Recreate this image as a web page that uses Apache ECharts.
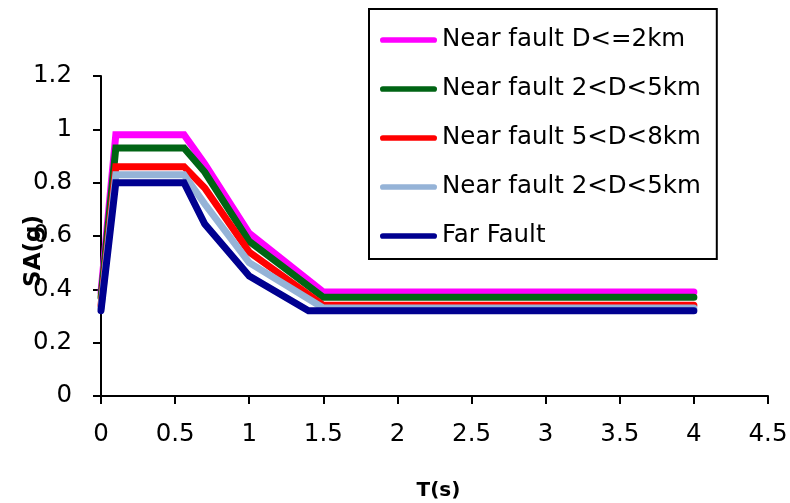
<!DOCTYPE html>
<html>
<head>
<meta charset="utf-8">
<script src="https://cdn.jsdelivr.net/npm/echarts@6/dist/echarts.min.js"></script>
<style>
  html, body { margin: 0; padding: 0; background: #ffffff; }
  #chart { width: 790px; height: 503px; }
</style>
</head>
<body>
<div id="chart"></div>
<script>
// Design response spectra: spectral acceleration SA (g) against period T (s)

// Periods (s) of the near-fault spectra and of the far-fault spectrum
const periodNear = [0, 0.1, 0.2, 0.3, 0.4, 0.5, 0.56, 0.7, 1.0, 1.5, 2, 2.5, 3, 3.5, 4];
const periodFar  = [0, 0.1, 0.2, 0.3, 0.4, 0.5, 0.56, 0.7, 1.0, 1.4, 1.5, 2, 2.5, 3, 3.5, 4];

// Spectral accelerations (g)
const saNearD2     = [0.39, 0.98, 0.98, 0.98, 0.98, 0.98, 0.98, 0.87, 0.61, 0.39, 0.39, 0.39, 0.39, 0.39, 0.39];
const saNearD2to5  = [0.37, 0.93, 0.93, 0.93, 0.93, 0.93, 0.93, 0.84, 0.58, 0.37, 0.37, 0.37, 0.37, 0.37, 0.37];
const saNearD5to8  = [0.34, 0.86, 0.86, 0.86, 0.86, 0.86, 0.86, 0.78, 0.54, 0.34, 0.34, 0.34, 0.34, 0.34, 0.34];
const saNearD2to5b = [0.33, 0.83, 0.83, 0.83, 0.83, 0.83, 0.83, 0.72, 0.50, 0.33, 0.33, 0.33, 0.33, 0.33, 0.33];
const saFar        = [0.32, 0.80, 0.80, 0.80, 0.80, 0.80, 0.80, 0.645, 0.45, 0.32, 0.32, 0.32, 0.32, 0.32, 0.32, 0.32];

// Legend texts, in drawing order (the trailing space keeps the repeated label a distinct series)
const seriesNames = [
  'Near fault D<=2km',
  'Near fault 2<D<5km',
  'Near fault 5<D<8km',
  'Near fault 2<D<5km ',
  'Far Fault'
];
const seriesColors = ['#ff00ff', '#006414', '#ff0000', '#95b3d7', '#000090'];

// Axis ticks
const xTicks = { min: 0, max: 4.5, step: 0.5 };
const yTicks = { min: 0, max: 1.2, step: 0.2 };

const FONT = 'DejaVu Sans';

function pairs(xs, ys) {
  return xs.map((x, i) => [x, ys[i]]);
}

const curves = [
  pairs(periodNear, saNearD2),
  pairs(periodNear, saNearD2to5),
  pairs(periodNear, saNearD5to8),
  pairs(periodNear, saNearD2to5b),
  pairs(periodFar, saFar)
];

const chart = echarts.init(document.getElementById('chart'), null, { renderer: 'canvas' });

chart.setOption({
  backgroundColor: '#ffffff',
  animation: false,
  grid: { left: 101, right: 22, top: 76, bottom: 107, containLabel: false, outerBoundsMode: 'none' },
  legend: {
    orient: 'vertical',
    left: 369,
    top: 9,
    padding: [16, 16, 8, 11],
    borderColor: '#000000',
    borderWidth: 2,
    backgroundColor: '#ffffff',
    itemWidth: 57,
    itemHeight: 7,
    itemGap: 19,
    icon: 'path://M5,0 H95 A5,5 0 0 1 95,10 H5 A5,5 0 0 1 5,0 Z',
    textStyle: { fontFamily: FONT, fontSize: 24.5, color: '#000000', lineHeight: 30 },
    formatter: (name) => name.trim(),
    data: seriesNames
  },
  xAxis: {
    type: 'value',
    min: xTicks.min,
    max: xTicks.max,
    interval: xTicks.step,
    name: 'T(s)',
    nameLocation: 'middle',
    nameGap: 85,
    nameMoveOverlap: false,
    nameTextStyle: { fontFamily: FONT, fontSize: 20, fontWeight: 'bold', color: '#000000', padding: [0, 0, 0, 8] },
    axisLine: { show: true, onZero: false, lineStyle: { color: '#000000', width: 2 } },
    axisTick: { show: true, inside: false, length: 8, lineStyle: { color: '#000000', width: 2 } },
    axisLabel: { margin: 26, fontFamily: FONT, fontSize: 24.5, color: '#000000' },
    splitLine: { show: false }
  },
  yAxis: {
    type: 'value',
    min: yTicks.min,
    max: yTicks.max,
    interval: yTicks.step,
    name: 'SA(g)',
    nameLocation: 'middle',
    nameGap: 55,
    nameMoveOverlap: false,
    nameRotate: 90,
    nameTextStyle: { fontFamily: FONT, fontSize: 23, fontWeight: 'bold', color: '#000000', padding: [0, 30, 0, 0] },
    axisLine: { show: true, onZero: false, lineStyle: { color: '#000000', width: 2 } },
    axisTick: { show: true, inside: false, length: 8, lineStyle: { color: '#000000', width: 2 } },
    axisLabel: { margin: 29, fontFamily: FONT, fontSize: 24.5, color: '#000000' },
    splitLine: { show: false }
  },
  series: curves.map((data, i) => ({
    name: seriesNames[i],
    type: 'line',
    data: data,
    showSymbol: false,
    symbol: 'none',
    smooth: false,
    color: seriesColors[i],
    lineStyle: { color: seriesColors[i], width: 7, cap: 'round', join: 'miter' },
    emphasis: { disabled: true }
  }))
});
</script>
</body>
</html>
